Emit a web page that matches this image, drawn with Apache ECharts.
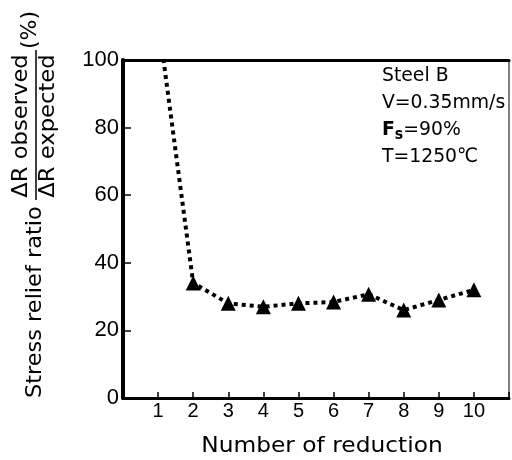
<!DOCTYPE html>
<html>
<head>
<meta charset="utf-8">
<script src="https://cdn.jsdelivr.net/npm/echarts@6/dist/echarts.min.js"></script>
<style>
html, body { margin: 0; padding: 0; background: #fff; }
#main { width: 512px; height: 460px; }
</style>
</head>
<body>
<div id="main"></div>
<script>
// number of reduction and measured stress relief ratio (%)
var reductions = [1, 2, 3, 4, 5, 6, 7, 8, 9, 10];
var ratio = [112, 34, 28, 27, 28, 28.4, 30.7, 26, 29, 32];
var yTicks = [0, 20, 40, 60, 80, 100];

var FONT = '"DejaVu Sans", "Liberation Sans", sans-serif';
var NUM_FONT = '"Liberation Sans", sans-serif';

var points = reductions.map(function (r, i) { return [r, ratio[i]]; });

var myChart = echarts.init(document.getElementById('main'));

var option = {
    animation: false,
    grid: {
        left: 123, right: 2, top: 60, bottom: 62,
        show: true, borderColor: '#000', borderWidth: 1
    },
    xAxis: [{
        type: 'value',
        min: 0, max: 11, interval: 1,
        splitLine: { show: false },
        axisLine: { lineStyle: { color: '#000', width: 3 } },
        axisTick: { inside: true, length: 6, lineStyle: { color: '#000', width: 1.5 } },
        axisLabel: {
            color: '#000', fontSize: 20, fontFamily: NUM_FONT, margin: 3,
            formatter: function (v) { return (v >= 1 && v <= 10) ? String(v) : ''; }
        }
    }, {
        type: 'value',
        position: 'top',
        min: 0, max: 11,
        splitLine: { show: false },
        axisLine: { lineStyle: { color: '#000', width: 3 } },
        axisTick: { show: false },
        axisLabel: { show: false }
    }],
    yAxis: {
        type: 'value',
        min: yTicks[0], max: yTicks[yTicks.length - 1], interval: 20,
        splitLine: { show: false },
        axisLine: { lineStyle: { color: '#000', width: 4 } },
        axisTick: { inside: true, length: 8, lineStyle: { color: '#000', width: 1.5 } },
        axisLabel: { color: '#000', fontSize: 22, fontFamily: NUM_FONT, margin: 4 }
    },
    series: [{
        type: 'line',
        data: points,
        clip: true,
        symbol: 'triangle',
        symbolSize: 15,
        itemStyle: { color: '#000' },
        lineStyle: { color: '#000', width: 4, type: [4, 4], cap: 'butt' }
    }],
    graphic: [{
        type: 'text',
        x: 322, y: 447,
        scaleX: 1.11,
        style: { text: 'Number of reduction', font: '21px ' + FONT, fill: '#000',
            textAlign: 'center', textVerticalAlign: 'middle' }
    }, {
        // y axis title, rotated to read bottom to top
        type: 'group',
        x: 35, y: 398,
        rotation: Math.PI / 2,
        children: [{
            type: 'text', x: 0, y: 0, scaleX: 1.02,
            style: { text: 'Stress relief ratio', font: '22px ' + FONT, fill: '#000',
                textAlign: 'left', textVerticalAlign: 'middle' }
        }, {
            type: 'line',
            shape: { x1: 198, y1: 1, x2: 348, y2: 1 },
            style: { stroke: '#000', lineWidth: 1.5 }
        }, {
            type: 'text', x: 272, y: -14, scaleX: 1.03,
            style: { text: '\u0394R observed', font: '22px ' + FONT, fill: '#000',
                textAlign: 'center', textVerticalAlign: 'middle' }
        }, {
            type: 'text', x: 272, y: 13, scaleX: 1.03,
            style: { text: '\u0394R expected', font: '22px ' + FONT, fill: '#000',
                textAlign: 'center', textVerticalAlign: 'middle' }
        }, {
            type: 'text', x: 368, y: -5,
            style: { text: '(%)', font: '22px ' + FONT, fill: '#000',
                textAlign: 'center', textVerticalAlign: 'middle' }
        }]
    }, {
        type: 'text',
        x: 382, y: 62,
        scaleX: 0.94,
        style: {
            text: 'Steel B\nV=0.35mm/s\n{b|F}{sub|s}=90%\nT=1250\u2103',
            font: '20px ' + FONT,
            lineHeight: 27,
            fill: '#000',
            rich: {
                b: { fontWeight: 'bold', fontSize: 20, fontFamily: FONT },
                sub: { fontWeight: 'bold', fontSize: 15, fontFamily: FONT, verticalAlign: 'bottom' }
            }
        }
    }]
};
myChart.setOption(option);
</script>
</body>
</html>
